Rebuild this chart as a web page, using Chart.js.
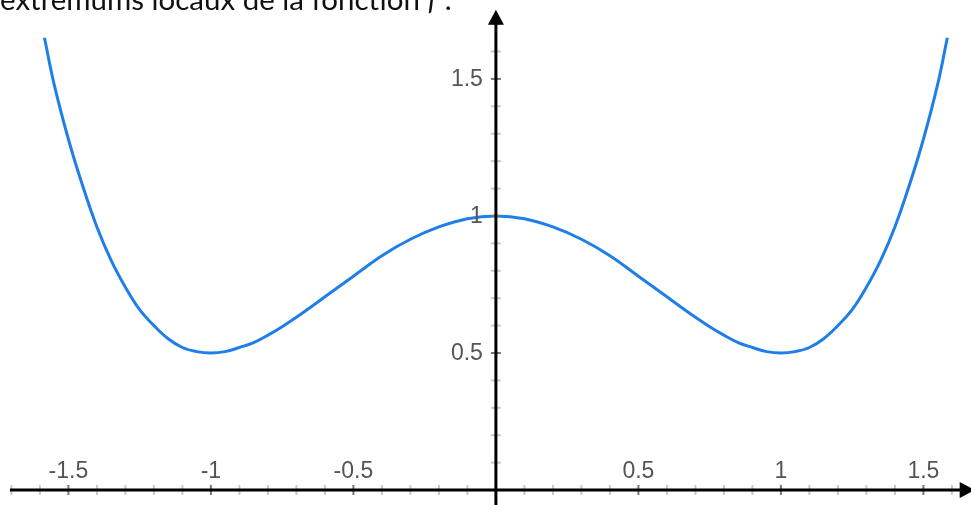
<!DOCTYPE html>
<html>
<head>
<meta charset="utf-8">
<script src="https://cdn.jsdelivr.net/npm/chart.js@4/dist/chart.umd.min.js"></script>
<style>
  html, body { margin: 0; padding: 0; background: #fff; overflow: hidden; }
  #wrap { position: relative; width: 971px; height: 505px; }
  #plot { position: absolute; left: 0; top: 0; }
  #caption { position: absolute; left: 0; top: 0; white-space: nowrap; color: #111;
             font-family: Lato, "Open Sans", sans-serif; font-size: 28px; }
  #mark { display: inline-block; width: 0; height: 0; vertical-align: baseline; }
</style>
</head>
<body>
<div id="wrap">
  <canvas id="plot" width="971" height="505"></canvas>
  <div id="caption">extremums locaux de la fonction <i>f</i> :<span id="mark"></span></div>
</div>
<script>
// curve samples
var xValues = [-1.584, -1.55, -1.5, -1.45, -1.4, -1.35, -1.3, -1.25, -1.2, -1.15, -1.1, -1.05, -1.0, -0.95, -0.9, -0.85, -0.8, -0.75,
               -0.7, -0.65, -0.6, -0.5, -0.4, -0.3, -0.2, -0.1,
               0, 0.1, 0.2, 0.3, 0.4, 0.5, 0.6, 0.65, 0.7, 0.75, 0.8, 0.85, 0.9, 0.95, 1.0, 1.05, 1.1, 1.15, 1.2, 1.25, 1.3, 1.35,
               1.4, 1.45, 1.5, 1.55, 1.584];
var yValues = [1.65, 1.48, 1.28, 1.11, 0.96, 0.838, 0.74, 0.658, 0.60, 0.552, 0.52, 0.505, 0.50, 0.505, 0.52, 0.538, 0.565, 0.596,
               0.63, 0.667, 0.705, 0.78, 0.855, 0.915, 0.96, 0.99,
               1.00, 0.99, 0.96, 0.915, 0.855, 0.78, 0.705, 0.667, 0.63, 0.596, 0.565, 0.538, 0.52, 0.505, 0.50, 0.505, 0.52, 0.552,
               0.60, 0.658, 0.74, 0.838, 0.96, 1.11, 1.28, 1.48, 1.65];

// axis labels
var xTickValues = [-1.5, -1, -0.5, 0.5, 1, 1.5];
var xTickLabels = ['-1.5', '-1', '-0.5', '0.5', '1', '1.5'];
var yTickValues = [0.5, 1, 1.5];
var yTickLabels = ['0.5', '1', '1.5'];

// Draw GeoGebra-style axes crossing at the origin
var axesPlugin = {
  id: 'axes',
  afterDatasetsDraw: function(chart) {
    var ctx = chart.ctx;
    var xs = chart.scales.x, ys = chart.scales.y;
    var ox = xs.getPixelForValue(0), oy = ys.getPixelForValue(0);
    ctx.save();

    // minor ticks every 0.1
    ctx.lineWidth = 2;
    var p;
    for (var i = -17; i <= 16; i++) {
      if (i === 0) continue;
      p = xs.getPixelForValue(i / 10);
      ctx.strokeStyle = (i % 5 === 0) ? '#777' : '#c8c8c8';
      ctx.beginPath(); ctx.moveTo(p, oy - 5); ctx.lineTo(p, oy + 5); ctx.stroke();
    }
    for (var j = 1; j <= 17; j++) {
      p = ys.getPixelForValue(j / 10);
      ctx.strokeStyle = (j % 5 === 0) ? '#777' : '#c8c8c8';
      ctx.beginPath(); ctx.moveTo(ox - 5, p); ctx.lineTo(ox + 5, p); ctx.stroke();
    }

    // axis lines
    ctx.strokeStyle = '#000';
    ctx.fillStyle = '#000';
    ctx.lineWidth = 3;
    var xl = xs.getPixelForValue(-1.705);
    var xr = xs.getPixelForValue(1.68);
    ctx.beginPath(); ctx.moveTo(xl, oy); ctx.lineTo(xr - 10, oy); ctx.stroke();
    ctx.beginPath(); ctx.moveTo(xr, oy); ctx.lineTo(xr - 15, oy - 8); ctx.lineTo(xr - 15, oy + 8); ctx.closePath(); ctx.fill();

    var yt = ys.getPixelForValue(1.752);
    var yb = ys.getPixelForValue(-0.06);
    ctx.beginPath(); ctx.moveTo(ox, yb); ctx.lineTo(ox, yt + 10); ctx.stroke();
    ctx.beginPath(); ctx.moveTo(ox, yt); ctx.lineTo(ox - 8, yt + 15); ctx.lineTo(ox + 8, yt + 15); ctx.closePath(); ctx.fill();

    // labels
    ctx.fillStyle = '#555';
    ctx.font = '23px "Liberation Sans", Arial, sans-serif';
    ctx.textAlign = 'center';
    ctx.textBaseline = 'alphabetic';
    xTickValues.forEach(function(val, k) {
      ctx.fillText(xTickLabels[k], xs.getPixelForValue(val), oy - 12);
    });
    ctx.textAlign = 'right';
    ctx.textBaseline = 'middle';
    yTickValues.forEach(function(val, k) {
      ctx.fillText(yTickLabels[k], ox - 13, ys.getPixelForValue(val) + 1);
    });
    ctx.restore();
  }
};

var points = xValues.map(function(x, i) { return { x: x, y: yValues[i] }; });

new Chart(document.getElementById('plot').getContext('2d'), {
  type: 'line',
  data: {
    datasets: [{
      data: points,
      borderColor: '#1f7fe6',
      borderWidth: 3,
      pointRadius: 0,
      fill: false,
      tension: 0.4
    }]
  },
  options: {
    responsive: false,
    animation: false,
    devicePixelRatio: 1,
    layout: { padding: 0 },
    plugins: { legend: { display: false }, tooltip: { enabled: false } },
    scales: {
      x: { type: 'linear', min: -1.74, max: 1.667, display: false },
      y: { type: 'linear', min: -0.0547, max: 1.788, display: false }
    }
  },
  plugins: [axesPlugin]
});

// fit the cut-off caption: width ~452px, baseline at y=10
(function() {
  var cap = document.getElementById('caption');
  var w = cap.getBoundingClientRect().width;
  var size = 28 * 452 / w;
  cap.style.fontSize = size + 'px';
  var base = document.getElementById('mark').getBoundingClientRect().top;
  cap.style.top = (10 - base) + 'px';
})();
</script>
</body>
</html>
